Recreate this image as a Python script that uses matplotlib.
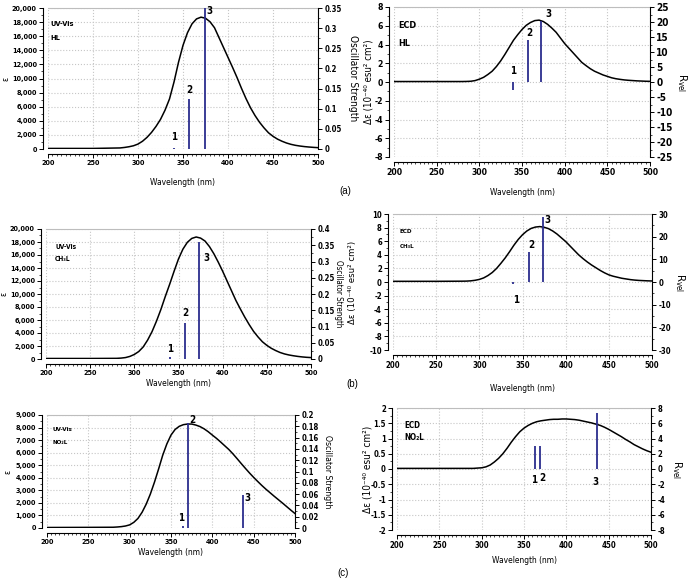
import matplotlib

matplotlib.use("Agg")
import matplotlib.pyplot as plt
from matplotlib.ticker import FuncFormatter, MultipleLocator

plt.rcParams["font.family"] = ["DejaVu Sans"]
plt.rcParams["font.weight"] = "bold"
plt.rcParams["font.stretch"] = "condensed"
plt.rcParams["mathtext.default"] = "regular"

W, H = 689, 581
CURVE = "black"
STICK = "#2b2d8e"
GRID = "#c6c6c6"
NARROW = ["Liberation Sans Narrow", "DejaVu Sans"]

# wavelength grid for all simulated spectra (nm): 200, 250, then every 5 nm from 280
wavelength = [200, 250,
              280, 285, 290, 295, 300, 305, 310, 315, 320, 325, 330, 335, 340, 345, 350,
              355, 360, 365, 370, 375, 380, 385, 390, 395, 400, 405, 410, 415, 420,
              425, 430, 435, 440, 445, 450, 455, 460, 465, 470, 475, 480, 485, 490,
              495, 500]

# (a) HL
hl_uv_eps = [80, 80,
             150, 220, 320, 460, 700, 1100, 1650, 2350, 3200, 4200, 5500, 7100, 9500,
             12300, 14700, 16500, 17750, 18450, 18700, 18550, 18050, 17200, 15800,
             14400, 13000, 11600, 10150, 8600, 7150, 5850, 4750, 3800, 3000, 2300,
             1800, 1400, 1100, 850, 660, 520, 420, 340, 280, 230, 190]
hl_uv_stick_wl = [340, 357, 374]
hl_uv_stick_f = [0.002, 0.125, 0.35]
hl_ecd_de = [0.05, 0.05,
             0.05, 0.06, 0.08, 0.15, 0.3, 0.5, 0.8, 1.15, 1.65, 2.25, 2.95, 3.7, 4.45,
             5.05, 5.6, 6.05, 6.35, 6.55, 6.6, 6.45, 6.15, 5.75, 5.3, 4.7, 4.1, 3.6,
             3.1, 2.6, 2.1, 1.75, 1.42, 1.15, 0.95, 0.75, 0.6, 0.45, 0.35, 0.28, 0.22,
             0.18, 0.15, 0.12, 0.1, 0.08, 0.07]
hl_ecd_stick_wl = [340, 356.5, 372.5]
hl_ecd_stick_r = [-2.5, 14.1, 20.4]

# (b) CH3L
ch3_uv_eps = [80, 80,
              100, 140, 220, 400, 700, 1150, 1850, 2900, 4200, 5800, 7600, 9600, 11500,
              13500, 15400, 16900, 17950, 18550, 18770, 18600, 18150, 17300, 16200,
              14900, 13500, 12000, 10500, 9000, 7700, 6450, 5300, 4250, 3400, 2650,
              2100, 1650, 1300, 1000, 780, 620, 500, 400, 320, 260, 220]
ch3_uv_stick_wl = [340.5, 357.5, 373.5]
ch3_uv_stick_f = [0.005, 0.111, 0.36]
ch3_ecd_de = [0.1, 0.1,
              0.12, 0.13, 0.17, 0.25, 0.38, 0.6, 0.95, 1.4, 2.0, 2.75, 3.55, 4.45, 5.4,
              6.25, 6.95, 7.5, 7.88, 8.08, 8.15, 8.05, 7.85, 7.5, 7.05, 6.5, 5.95, 5.3,
              4.65, 4.0, 3.45, 2.95, 2.5, 2.1, 1.7, 1.35, 1.05, 0.85, 0.7, 0.55, 0.45,
              0.35, 0.28, 0.23, 0.2, 0.17, 0.15]
ch3_ecd_stick_wl = [339.5, 358, 373.5]
ch3_ecd_stick_r = [-1.0, 13.4, 28.5]

# (c) NO2L
no2_uv_eps = [40, 50,
              60, 80, 110, 160, 250, 450, 760, 1250, 1900, 2700, 3650, 4700, 5800, 6700,
              7400, 7850, 8100, 8230, 8280, 8280, 8200, 8080, 7900, 7670, 7400, 7140,
              6850, 6550, 6250, 5900, 5520, 5130, 4750, 4380, 4030, 3700, 3380, 3080,
              2800, 2520, 2250, 1980, 1700, 1420, 1150]
no2_uv_stick_wl = [364, 370, 436.5]
no2_uv_stick_f = [0.004, 0.186, 0.059]
no2_ecd_de = [0.02, 0.02,
              0.02, 0.02, 0.02, 0.03, 0.04, 0.07, 0.13, 0.23, 0.35, 0.5, 0.68, 0.88,
              1.06, 1.22, 1.34, 1.43, 1.5, 1.55, 1.58, 1.6, 1.62, 1.63, 1.63, 1.64,
              1.64, 1.63, 1.62, 1.6, 1.57, 1.54, 1.51, 1.47, 1.43, 1.37, 1.3, 1.22,
              1.14, 1.06, 0.97, 0.89, 0.8, 0.73, 0.66, 0.6, 0.55]
no2_ecd_stick_wl = [363, 369, 436]
no2_ecd_stick_r = [3.0, 3.0, 7.4]


def num_fmt(v, _):
    return f"{round(v, 3):g}"


def make_axes(fig, box, left, right, tick_size=5.6, right_size=5.6):
    x0, x1, ytop, ybot = box
    ax = fig.add_axes([x0 / W, 1 - ybot / H, (x1 - x0) / W, (ybot - ytop) / H])
    ax2 = ax.twinx()

    ax.set_xlim(200, 500)
    ax.xaxis.set_major_locator(MultipleLocator(50))
    ax.xaxis.set_minor_locator(MultipleLocator(5))
    ax.set_ylim(left[0], left[1])
    ax.yaxis.set_major_locator(MultipleLocator(left[2]))
    ax.yaxis.set_minor_locator(MultipleLocator(left[2] / 2))
    ax2.set_ylim(right[0], right[1])
    ax2.yaxis.set_major_locator(MultipleLocator(right[2]))
    ax2.yaxis.set_minor_locator(MultipleLocator(right[2] / 2))

    ax.grid(True, which="major", color=GRID, linestyle=":", linewidth=0.8)
    ax.set_axisbelow(True)
    ax.spines["left"].set_position(("outward", 3.5))
    ax.spines["bottom"].set_position(("outward", 3.5))
    ax.spines["top"].set_color("#bdbdbd")
    ax.spines["right"].set_visible(False)
    for s in ("left", "bottom", "top"):
        ax2.spines[s].set_visible(False)
    for a in (ax, ax2):
        for s in a.spines.values():
            s.set_linewidth(0.8)

    ax.tick_params(which="major", direction="out", length=3, width=0.7,
                   labelsize=tick_size, pad=1.5)
    ax.tick_params(which="minor", direction="out", length=1.6, width=0.5)
    ax2.tick_params(which="major", direction="out", length=3, width=0.7,
                    labelsize=right_size, pad=1.5)
    ax2.tick_params(which="minor", direction="out", length=1.6, width=0.5)
    return ax, ax2


def label_sticks(ax2, xs, ys, offsets, size=7):
    for i, (x, y, (anchor, dx, dy)) in enumerate(zip(xs, ys, offsets), start=1):
        yy = y if anchor == "top" else 0
        ax2.annotate(str(i), (x, yy), xytext=(dx, dy), textcoords="offset pixels",
                     ha="center", va="center", fontsize=size, family=NARROW)


def set_labels(ax, ax2, left_text, left_size, left_x, right_text, right_size, right_x, xlab_y):
    ax.set_xlabel("Wavelength (nm)", fontsize=6, va="center")
    ax.xaxis.set_label_coords(0.5, xlab_y)
    ax.set_ylabel(left_text, fontsize=left_size, va="center")
    ax.yaxis.set_label_coords(left_x, 0.5)
    ax2.set_ylabel(right_text, fontsize=right_size, rotation=270, va="center")
    ax2.yaxis.set_label_coords(right_x, 0.5)


def uv_panel(fig, box, eps, ymax, ystep, fmax, fstep, stick_wl, stick_f, name,
             offsets, lab_x, txt_size, os_size, os_x, eps_x, xlab_y, tag_y):
    ax, ax2 = make_axes(fig, box, (0, ymax, ystep), (0, fmax, fstep), 5.2, 5.6)
    ax.yaxis.set_major_formatter(FuncFormatter(lambda v, _: f"{v:,.0f}"))
    ax2.yaxis.set_major_formatter(FuncFormatter(num_fmt))
    ax.plot(wavelength, eps, color=CURVE, linewidth=1.1, zorder=3)
    ax2.vlines(stick_wl, 0, stick_f, color=STICK, linewidth=1.3, zorder=4)
    label_sticks(ax2, stick_wl, stick_f, offsets)

    ax.text(lab_x, tag_y[0], "UV-Vis", transform=ax.transAxes, fontsize=txt_size, va="center")
    ax.text(lab_x, tag_y[1], name, transform=ax.transAxes, fontsize=txt_size, va="center")
    set_labels(ax, ax2, "ε", 6, eps_x, "Oscillator Strength", os_size, os_x, xlab_y)
    return ax, ax2


def ecd_panel(fig, box, de, left, right, stick_wl, stick_r, name, offsets, lab_x,
              txt_size, de_size, de_x, r_x, xlab_y, tag_y, tick_size=5.6, right_size=5.6):
    ax, ax2 = make_axes(fig, box, left, right, tick_size, right_size)
    ax.yaxis.set_major_formatter(FuncFormatter(num_fmt))
    ax2.yaxis.set_major_formatter(FuncFormatter(num_fmt))
    ax.plot(wavelength, de, color=CURVE, linewidth=1.1, zorder=3)
    ax2.vlines(stick_wl, 0, stick_r, color=STICK, linewidth=1.3, zorder=4)
    label_sticks(ax2, stick_wl, stick_r, offsets)

    ax.text(lab_x, tag_y[0], "ECD", transform=ax.transAxes, fontsize=txt_size, va="center")
    ax.text(lab_x, tag_y[1], name, transform=ax.transAxes, fontsize=txt_size, va="center")
    set_labels(ax, ax2, "Δε (10⁻⁴⁰ esu² cm²)", de_size, de_x, r"R$_{vel}$", 8, r_x, xlab_y)
    return ax, ax2


fig = plt.figure(figsize=(W / 100, H / 100), dpi=100)

# (a) HL
uv_panel(fig, (48, 318, 8, 149), hl_uv_eps, 20000, 2000, 0.35, 0.05,
         hl_uv_stick_wl, hl_uv_stick_f, "HL",
         [("top", 0, 11), ("top", 0, 9), ("top", 5, -3)],
         0.01, 5.3, 7.3, 1.13, -0.156, -0.24, (0.89, 0.79))
ecd_panel(fig, (394, 650, 7, 157), hl_ecd_de, (-8, 8, 2), (-25, 25, 5),
          hl_ecd_stick_wl, hl_ecd_stick_r, "HL",
          [("zero", 0, 11), ("top", 2, 7), ("top", 7, 7)],
          0.016, 6.5, 7, -0.10, 1.125, -0.235, (0.88, 0.76), 6.2, 7.2)

# (b) CH3L
uv_panel(fig, (46, 311, 229, 359), ch3_uv_eps, 20000, 2000, 0.4, 0.05,
         ch3_uv_stick_wl, ch3_uv_stick_f, "CH₃L",
         [("zero", 0, 10), ("top", 0, 10), ("top", 7, -16)],
         0.034, 4.8, 5.8, 1.105, -0.158, -0.19, (0.86, 0.77))
ecd_panel(fig, (393, 652, 214, 350), ch3_ecd_de, (-10, 10, 2), (-30, 30, 10),
          ch3_ecd_stick_wl, ch3_ecd_stick_r, "CH₃L",
          [("zero", 3, -18), ("top", 2, 7), ("top", 5, -3)],
          0.027, 4.5, 6.8, -0.155, 1.108, -0.28, (0.87, 0.76))

# (c) NO2L
uv_panel(fig, (47, 295, 415, 528), no2_uv_eps, 9000, 1000, 0.2, 0.02,
         no2_uv_stick_wl, no2_uv_stick_f, "NO₂L",
         [("zero", -1, 10), ("top", 5, 3), ("top", 5, -3)],
         0.024, 4.5, 6.2, 1.133, -0.158, -0.22, (0.87, 0.76))
ecd_panel(fig, (397, 651, 408, 530), no2_ecd_de, (-2, 2, 0.5), (-8, 8, 2),
          no2_ecd_stick_wl, no2_ecd_stick_r, "NO₂L",
          [("zero", -1, -11), ("zero", 2, -9), ("zero", -1, -13)],
          0.028, 5.8, 7.2, -0.118, 1.10, -0.246, (0.86, 0.76))

for tag, x, y in (("(a)", 345, 191), ("(b)", 352, 384), ("(c)", 343, 573)):
    fig.text(x / W, 1 - y / H, tag, ha="center", va="center", fontsize=7,
             fontweight="normal", family=["Liberation Sans", "DejaVu Sans"])

fig.savefig("out.png", dpi=100)
